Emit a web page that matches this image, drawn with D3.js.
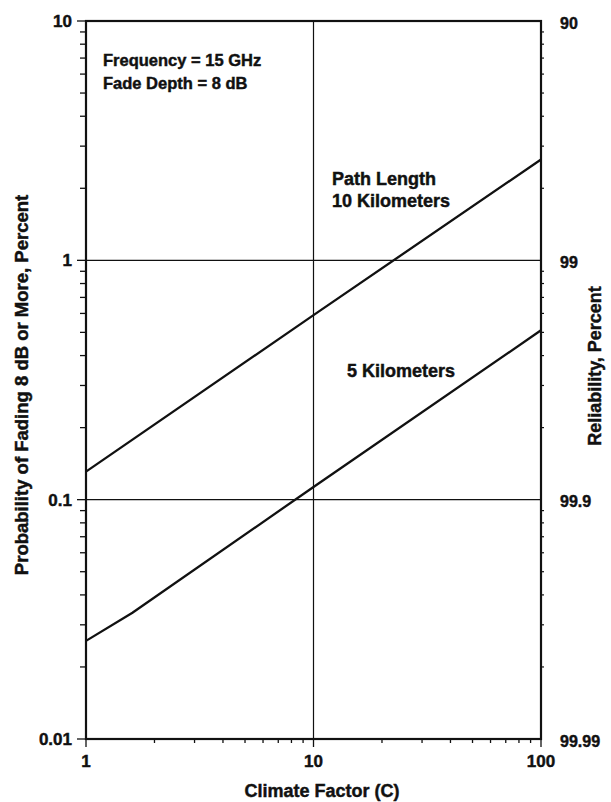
<!DOCTYPE html>
<html>
<head>
<meta charset="utf-8">
<script src="https://cdn.jsdelivr.net/npm/d3@7"></script>
<style>
  body { margin: 0; background: #fff; }
  svg text { font-family: 'Liberation Sans', Arial, sans-serif; font-weight: bold; fill: #111; stroke: #111; stroke-width: 0.45px; }
</style>
</head>
<body>
<div id="chart"></div>
<script>
// values
const climate10 = [1, 10, 100];
const prob10 = [0.131, 0.59, 2.64];
const climate5 = [1, 1.6, 10, 100];
const prob5 = [0.0257, 0.0337, 0.113, 0.51];

const xTicks = [1, 10, 100];
const yTicks = [0.01, 0.1, 1, 10];
const yTickLabels = ['0.01', '0.1', '1', '10'];
const reliabilityLabels = ['99.99', '99.9', '99', '90'];

const width = 611;
const height = 802;
const plot = { left: 86, right: 541, top: 21, bottom: 739 };

const svg = d3.select('#chart')
  .append('svg')
  .attr('width', width)
  .attr('height', height);

const x = d3.scaleLog().domain([1, 100]).range([plot.left, plot.right]);
const y = d3.scaleLog().domain([0.01, 10]).range([plot.bottom, plot.top]);

// minor tick values (2..9 within each decade)
const minorX = x.ticks().filter((v) => xTicks.indexOf(v) < 0);
const minorY = y.ticks().filter((v) => yTicks.indexOf(v) < 0);

// grid lines at inner decades
svg.selectAll('line.vgrid')
  .data([10])
  .enter()
  .append('line')
  .attr('class', 'vgrid')
  .attr('x1', (d) => x(d))
  .attr('x2', (d) => x(d))
  .attr('y1', plot.top)
  .attr('y2', plot.bottom)
  .attr('stroke', '#111')
  .attr('stroke-width', 1.2);

svg.selectAll('line.hgrid')
  .data([0.1, 1])
  .enter()
  .append('line')
  .attr('class', 'hgrid')
  .attr('x1', plot.left)
  .attr('x2', plot.right)
  .attr('y1', (d) => y(d))
  .attr('y2', (d) => y(d))
  .attr('stroke', '#111')
  .attr('stroke-width', 1.2);

// left axis ticks (outward)
svg.selectAll('line.ytick')
  .data(yTicks.concat(minorY))
  .enter()
  .append('line')
  .attr('x1', (d) => plot.left - (yTicks.indexOf(d) >= 0 ? 9 : 6))
  .attr('x2', plot.left)
  .attr('y1', (d) => y(d))
  .attr('y2', (d) => y(d))
  .attr('stroke', '#111')
  .attr('stroke-width', 1.3);

// right axis ticks
svg.selectAll('line.rtick')
  .data(minorY)
  .enter()
  .append('line')
  .attr('x1', plot.right)
  .attr('x2', plot.right + 3)
  .attr('y1', (d) => y(d))
  .attr('y2', (d) => y(d))
  .attr('stroke', '#111')
  .attr('stroke-width', 1.2);

// bottom axis ticks
svg.selectAll('line.xtick')
  .data(xTicks.concat(minorX))
  .enter()
  .append('line')
  .attr('x1', (d) => x(d))
  .attr('x2', (d) => x(d))
  .attr('y1', plot.bottom)
  .attr('y2', (d) => plot.bottom + (xTicks.indexOf(d) >= 0 ? 8 : 4))
  .attr('stroke', '#111')
  .attr('stroke-width', 1.3);

// frame
svg.append('rect')
  .attr('x', plot.left)
  .attr('y', plot.top)
  .attr('width', plot.right - plot.left)
  .attr('height', plot.bottom - plot.top)
  .attr('fill', 'none')
  .attr('stroke', '#111')
  .attr('stroke-width', 2.2);

// tick labels
svg.selectAll('text.ylab')
  .data(yTicks)
  .enter()
  .append('text')
  .attr('x', plot.left - 14)
  .attr('y', (d) => y(d))
  .attr('dy', '0.35em')
  .attr('text-anchor', 'end')
  .style('font-size', '17px')
  .text((d, i) => yTickLabels[i]);

svg.selectAll('text.rlab')
  .data(yTicks)
  .enter()
  .append('text')
  .attr('x', plot.right + 19)
  .attr('y', (d) => y(d) + 2)
  .attr('dy', '0.35em')
  .style('font-size', '16px')
  .text((d, i) => reliabilityLabels[i]);

svg.selectAll('text.xlab')
  .data(xTicks)
  .enter()
  .append('text')
  .attr('x', (d) => x(d))
  .attr('y', 767)
  .attr('text-anchor', 'middle')
  .style('font-size', '17px')
  .text((d) => d);

// curves
const line = d3.line()
  .x((d) => x(d[0]))
  .y((d) => y(d[1]));

svg.append('path')
  .datum(d3.zip(climate10, prob10))
  .attr('d', line)
  .attr('fill', 'none')
  .attr('stroke', '#111')
  .attr('stroke-width', 2.3);

svg.append('path')
  .datum(d3.zip(climate5, prob5))
  .attr('d', line)
  .attr('fill', 'none')
  .attr('stroke', '#111')
  .attr('stroke-width', 2.3);

// annotations
const notes = [
  { t: 'Frequency = 15 GHz', x: 103, y: 66, s: 16.5 },
  { t: 'Fade Depth = 8 dB', x: 103, y: 89, s: 16.5 },
  { t: 'Path Length', x: 332, y: 185, s: 18 },
  { t: '10 Kilometers', x: 332, y: 207, s: 18 },
  { t: '5 Kilometers', x: 347, y: 377, s: 18 },
];
svg.selectAll('text.note')
  .data(notes)
  .enter()
  .append('text')
  .attr('x', (d) => d.x)
  .attr('y', (d) => d.y)
  .style('font-size', (d) => `${d.s}px`)
  .text((d) => d.t);

// axis titles
svg.append('text')
  .attr('x', 322)
  .attr('y', 797)
  .attr('text-anchor', 'middle')
  .style('font-size', '18px')
  .text('Climate Factor (C)');

svg.append('text')
  .attr('transform', 'translate(22,385) rotate(-90)')
  .attr('dy', '0.35em')
  .attr('text-anchor', 'middle')
  .style('font-size', '18.5px')
  .text('Probability of Fading 8 dB or More, Percent');

svg.append('text')
  .attr('transform', 'translate(595,366) rotate(-90)')
  .attr('dy', '0.35em')
  .attr('text-anchor', 'middle')
  .style('font-size', '18px')
  .text('Reliability, Percent');
</script>
</body>
</html>
